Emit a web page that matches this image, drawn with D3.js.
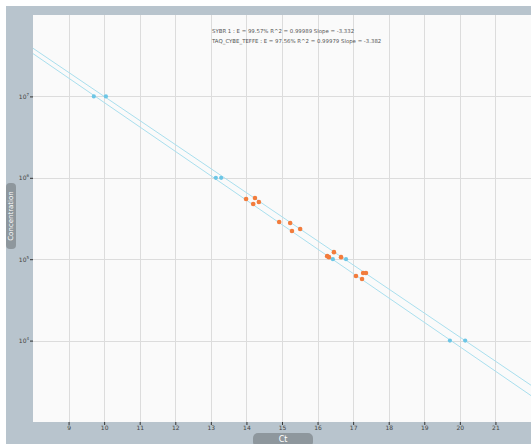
<!DOCTYPE html>
<html>
<head>
<meta charset="utf-8">
<script src="https://cdn.jsdelivr.net/npm/d3@7"></script>
<style>
  body { margin: 0; background: #fff; }
  text { font-family: "DejaVu Sans", sans-serif; }
</style>
</head>
<body>
<script>
// standards: concentration levels and Ct of the two replicate series
const stdConc = [1e7, 1e6, 1e5, 1e4];
const stdCtA = [9.71, 13.14, 16.43, 19.72];
const stdCtB = [10.05, 13.29, 16.80, 20.15];

// unknown samples (Ct, computed concentration)
const unkCt = [13.99, 14.24, 14.35, 14.19, 14.92, 15.23, 15.28, 15.51,
               16.27, 16.32, 16.46, 16.66, 17.08, 17.25, 17.28, 17.36];
const unkConc = [5.48e5, 5.65e5, 5.05e5, 4.76e5, 2.86e5, 2.79e5, 2.22e5, 2.35e5,
                 1.09e5, 1.06e5, 1.22e5, 1.06e5, 6.22e4, 5.71e4, 6.76e4, 6.76e4];

const xTicks = [9, 10, 11, 12, 13, 14, 15, 16, 17, 18, 19, 20, 21];
const yTicks = [1e4, 1e5, 1e6, 1e7];
const seriesNames = ["SYBR 1", "TAQ_CYBE_TEFFE"];

const width = 531, height = 444;
const plot = { left: 33, top: 15, right: 531, bottom: 422 };

const svg = d3.select("body").append("svg")
  .attr("width", width)
  .attr("height", height);

svg.append("rect")
  .attr("x", 6).attr("y", 6)
  .attr("width", width - 6).attr("height", height - 6)
  .attr("fill", "#b8c4cd");

svg.append("rect")
  .attr("x", plot.left).attr("y", plot.top)
  .attr("width", plot.right - plot.left).attr("height", plot.bottom - plot.top)
  .attr("fill", "#fafafa");

const x = d3.scaleLinear().domain([8, 22]).range([plot.left, plot.right]);
const y = d3.scaleLog().domain([1e3, 1e8]).range([plot.bottom, plot.top]);

// grid
const grid = svg.append("g").attr("stroke", "#dcdcdc").attr("stroke-width", 1);
grid.selectAll("line.v").data(xTicks).enter().append("line")
  .attr("class", "v")
  .attr("x1", d => Math.round(x(d)) + 0.5).attr("x2", d => Math.round(x(d)) + 0.5)
  .attr("y1", plot.top).attr("y2", plot.bottom);
grid.selectAll("line.h").data(yTicks).enter().append("line")
  .attr("class", "h")
  .attr("x1", plot.left).attr("x2", plot.right)
  .attr("y1", d => Math.round(y(d)) + 0.5).attr("y2", d => Math.round(y(d)) + 0.5);

// least squares of log10(conc) on Ct
function fit(cts) {
  const ys = stdConc.map(c => Math.log10(c));
  const mx = d3.mean(cts), my = d3.mean(ys);
  const sxy = d3.sum(cts, (c, i) => (c - mx) * (ys[i] - my));
  const sxx = d3.sum(cts, c => (c - mx) ** 2);
  const syy = d3.sum(ys, v => (v - my) ** 2);
  const b = sxy / sxx;
  return { b, a: my - b * mx, r2: (sxy * sxy) / (sxx * syy) };
}
const fits = [fit(stdCtA), fit(stdCtB)];

svg.append("defs").append("clipPath").attr("id", "clip")
  .append("rect")
  .attr("x", plot.left).attr("y", plot.top)
  .attr("width", plot.right - plot.left).attr("height", plot.bottom - plot.top);

const line = d3.line().x(d => x(d[0])).y(d => y(Math.pow(10, d[1])));
svg.append("g").attr("clip-path", "url(#clip)")
  .selectAll("path").data(fits).enter().append("path")
  .attr("d", f => line(x.domain().map(c => [c, f.a + f.b * c])))
  .attr("fill", "none")
  .attr("stroke", "#a9dfee")
  .attr("stroke-width", 1);

// standards
const stdPts = stdCtA.map((c, i) => [c, stdConc[i]])
  .concat(stdCtB.map((c, i) => [c, stdConc[i]]));
svg.append("g").selectAll("circle").data(stdPts).enter().append("circle")
  .attr("cx", d => x(d[0])).attr("cy", d => y(d[1]))
  .attr("r", 2.1)
  .attr("fill", "#6cc6e6");

// unknowns
svg.append("g").selectAll("circle").data(unkCt).enter().append("circle")
  .attr("cx", d => x(d)).attr("cy", (d, i) => y(unkConc[i]))
  .attr("r", 2.3)
  .attr("fill", "#f27c3c");

// axes
const xAxis = svg.append("g")
  .attr("transform", `translate(0,${plot.bottom})`)
  .call(d3.axisBottom(x).tickValues(xTicks).tickSize(3).tickPadding(1).tickFormat(d3.format("d")));
xAxis.select(".domain").remove();
xAxis.selectAll("line").attr("stroke", "#333");
xAxis.selectAll("text").attr("font-size", 6).attr("fill", "#444");

const yAxis = svg.append("g")
  .attr("transform", `translate(${plot.left},0)`)
  .call(d3.axisLeft(y).tickValues(yTicks).tickSize(3).tickPadding(1).tickFormat(() => ""));
yAxis.select(".domain").remove();
yAxis.selectAll("line").attr("stroke", "#333");
yAxis.selectAll(".tick text")
  .attr("font-size", 6).attr("fill", "#444")
  .each(function(d) {
    const t = d3.select(this);
    t.append("tspan").text("10");
    t.append("tspan").attr("dy", -3).attr("font-size", 4).text(Math.round(Math.log10(d)));
  });

// efficiency summary
const title = svg.append("g").attr("font-size", 5.4).attr("fill", "#555");
fits.forEach((f, i) => {
  const slope = 1 / f.b;
  const eff = (Math.pow(10, -1 / slope) - 1) * 100;
  title.append("text")
    .attr("x", 212).attr("y", 33 + i * 10)
    .text(`${seriesNames[i]} : E = ${eff.toFixed(2)}%  R^2 = ${f.r2.toFixed(5)}  Slope = ${slope.toFixed(3)}`);
});

// axis titles
const yt = svg.append("g").attr("transform", "translate(11,216) rotate(-90)");
yt.append("rect").attr("x", -33).attr("y", -5).attr("width", 66).attr("height", 10)
  .attr("rx", 4).attr("fill", "#8e979d");
yt.append("text").attr("text-anchor", "middle").attr("dy", "0.35em")
  .attr("font-size", 7).attr("fill", "#fff").text("Concentration");

const xt = svg.append("g").attr("transform", "translate(283,439)");
xt.append("rect").attr("x", -30).attr("y", -6).attr("width", 60).attr("height", 14)
  .attr("rx", 5).attr("fill", "#8e979d");
xt.append("text").attr("text-anchor", "middle").attr("dy", "0.35em")
  .attr("font-size", 8).attr("fill", "#fff").text("Ct");
</script>
</body>
</html>
